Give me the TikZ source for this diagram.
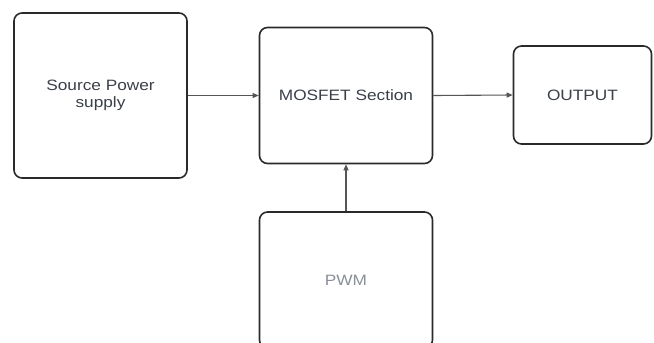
\documentclass[tikz,border=0pt]{standalone}
\usepackage{fontspec}
\setmainfont{Liberation Sans}[FakeStretch=1.15]
\usetikzlibrary{arrows.meta}
\definecolor{boxline}{HTML}{2A2A2A}
\definecolor{txt}{HTML}{3A3F48}
\definecolor{pwmtxt}{HTML}{8A8F98}
\definecolor{arr}{HTML}{555555}
\tikzset{
  blk/.style={draw=boxline, line width=1.6pt, rounded corners=8pt, fill=white,
    align=center, text=txt, font=\fontsize{15}{17}\selectfont, inner sep=0pt},
  conn/.style={draw=arr, line width=1.1pt, -{Triangle[length=6pt,width=5pt]}}
}
\begin{document}
\begin{tikzpicture}[x=1pt,y=-1pt]
\useasboundingbox (0,0) rectangle (654,343);
\clip (0,0) rectangle (654,343);
\node[blk, minimum width=173pt, minimum height=165pt] (src) at (100.5,95.5) {Source Power\\supply};
\node[blk, minimum width=173pt, minimum height=136pt] (mos) at (346,95.5) {MOSFET Section};
\node[blk, minimum width=138pt, minimum height=98pt] (out) at (582.5,95) {OUTPUT};
\node[blk, minimum width=173pt, minimum height=136pt, text=pwmtxt] (pwm) at (346,280) {PWM};
\draw[conn] (src.east) -- (mos.west);
\draw[conn] (mos.east) -- (out.west);
\draw[conn] (pwm.north) -- (mos.south);
\end{tikzpicture}
\end{document}
